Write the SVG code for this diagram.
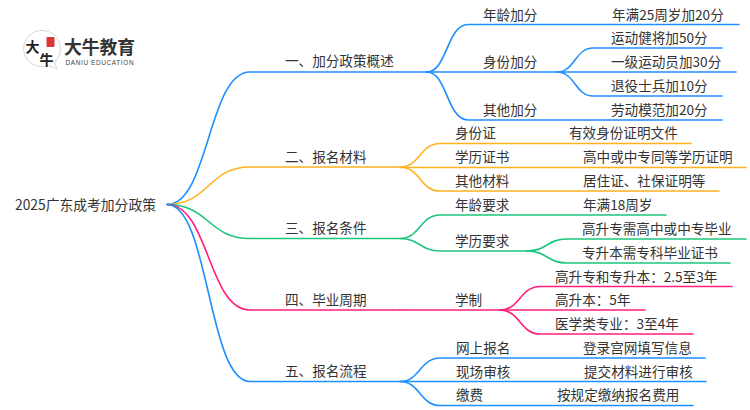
<svg xmlns="http://www.w3.org/2000/svg" width="750" height="410" viewBox="0 0 750 410">
<style>
text{font-family:"Noto Sans CJK SC","Noto Sans",sans-serif;font-size:13.6px;fill:#333}
path{fill:none;stroke-width:1.6;stroke-linecap:round}
.b{stroke:#1e8fff}.o{stroke:#ffb11f}.g{stroke:#1dc67d}.p{stroke:#ff1f7d}
.lg{font-size:14px;font-weight:700;fill:#222}
</style>
<rect width="750" height="410" fill="#fff"/>
<g id="connectors">
<path class="b" d="M167,204.5C209,204.5 208,72 250,72H427"/>
<path class="o" d="M167,204.5C209,204.5 208,167 250,167H400"/>
<path class="g" d="M167,204.5C209,204.5 208,238.5 250,238.5H400"/>
<path class="p" d="M167,204.5C209,204.5 208,310 250,310H400"/>
<path class="b" d="M167,204.5C209,204.5 208,381.5 250,381.5H400"/>
<path class="b" d="M427,72C447,72 447,24.5 468,24.5H739"/>
<path class="b" d="M427,72H736"/>
<path class="b" d="M427,72C447,72 447,120 468,120H722"/>
<path class="b" d="M557,72C575,72 575,48 593,48H722"/>
<path class="b" d="M557,72C575,72 575,96 593,96H722"/>
<path class="o" d="M400,167C420,167 420,143.500 440,143.500H691"/>
<path class="o" d="M400,167.500H746"/>
<path class="o" d="M400,167C420,167 420,191 440,191H719"/>
<path class="g" d="M400,238.500C420,238.500 420,215 440,215H666"/>
<path class="g" d="M400,238.500C420,238.500 420,251 440,251H527"/>
<path class="g" d="M527,251C547,251 547,239 567,239H746"/>
<path class="g" d="M527,251C547,251 547,263 567,263H730"/>
<path class="p" d="M500,310C520,310 520,286.500 540,286.500H732"/>
<path class="p" d="M400,310H645"/>
<path class="p" d="M500,310C520,310 520,334 540,334H693"/>
<path class="b" d="M400,381.500C420,381.500 420,358 440,358H705"/>
<path class="b" d="M400,381.500H706"/>
<path class="b" d="M400,381.500C420,381.500 420,405.500 440,405.500H693"/>
</g>
<g id="logo">
<path d="M42,30.500A18,18 0 1 0 47.500,65.500L57,68.500L54.500,62A18,18 0 0 0 42,30.500Z" fill="#fff" stroke="#ccc" style="stroke-width:.8"/>
<path d="M28,37A18,18 0 0 1 56,37Z" fill="#e8262a" stroke="none"/>
<rect x="46.500" y="37" width="8" height="10" rx="1" fill="#d9363a"/>
<text class="lg" x="25.500" y="52">大</text>
<text class="lg" x="39.500" y="64.500">牛</text>
<text x="64" y="54" style="font-size:17.800px;font-weight:700;fill:#333">大牛教育</text>
<text x="65.500" y="64.500" style="font-size:6.400px;fill:#444;font-family:'Liberation Sans',sans-serif" textLength="68">DANIU EDUCATION</text>
</g>
<g id="root"><text x="15" y="210" style="font-size:13.800px">2025广东成考加分政策</text></g>
<g id="n1"><text x="285" y="66">一、加分政策概述</text></g>
<g id="n2"><text x="285" y="162">二、报名材料</text></g>
<g id="n3"><text x="285" y="233">三、报名条件</text></g>
<g id="n4"><text x="285" y="305">四、毕业周期</text></g>
<g id="n5"><text x="285" y="376">五、报名流程</text></g>
<g id="n1-1"><text x="483" y="19.500">年龄加分</text></g>
<g id="n1-1-1"><text x="612" y="19.500">年满25周岁加20分</text></g>
<g id="n1-2"><text x="483" y="67">身份加分</text></g>
<g id="n1-2-1"><text x="611" y="43">运动健将加50分</text></g>
<g id="n1-2-2"><text x="611" y="67">一级运动员加30分</text></g>
<g id="n1-2-3"><text x="611" y="91">退役士兵加10分</text></g>
<g id="n1-3"><text x="483" y="115">其他加分</text></g>
<g id="n1-3-1"><text x="611" y="115">劳动模范加20分</text></g>
<g id="n2-1"><text x="455" y="138">身份证</text></g>
<g id="n2-1-1"><text x="569" y="138">有效身份证明文件</text></g>
<g id="n2-2"><text x="455" y="162">学历证书</text></g>
<g id="n2-2-1"><text x="583" y="162">高中或中专同等学历证明</text></g>
<g id="n2-3"><text x="455" y="186">其他材料</text></g>
<g id="n2-3-1"><text x="583" y="186">居住证、社保证明等</text></g>
<g id="n3-1"><text x="455" y="210">年龄要求</text></g>
<g id="n3-1-1"><text x="583" y="210">年满18周岁</text></g>
<g id="n3-2"><text x="455" y="246">学历要求</text></g>
<g id="n3-2-1"><text x="582" y="234">高升专需高中或中专毕业</text></g>
<g id="n3-2-2"><text x="582" y="258">专升本需专科毕业证书</text></g>
<g id="n4-1"><text x="455" y="305">学制</text></g>
<g id="n4-1-1"><text x="555" y="281.500">高升专和专升本：2.5至3年</text></g>
<g id="n4-1-2"><text x="555" y="305">高升本：5年</text></g>
<g id="n4-1-3"><text x="555" y="329">医学类专业：3至4年</text></g>
<g id="n5-1"><text x="456" y="353">网上报名</text></g>
<g id="n5-1-1"><text x="583" y="353">登录宫网填写信息</text></g>
<g id="n5-2"><text x="456" y="377">现场审核</text></g>
<g id="n5-2-1"><text x="584" y="377">提交材料进行审核</text></g>
<g id="n5-3"><text x="456" y="400">缴费</text></g>
<g id="n5-3-1"><text x="557" y="400">按规定缴纳报名费用</text></g>
</svg>
